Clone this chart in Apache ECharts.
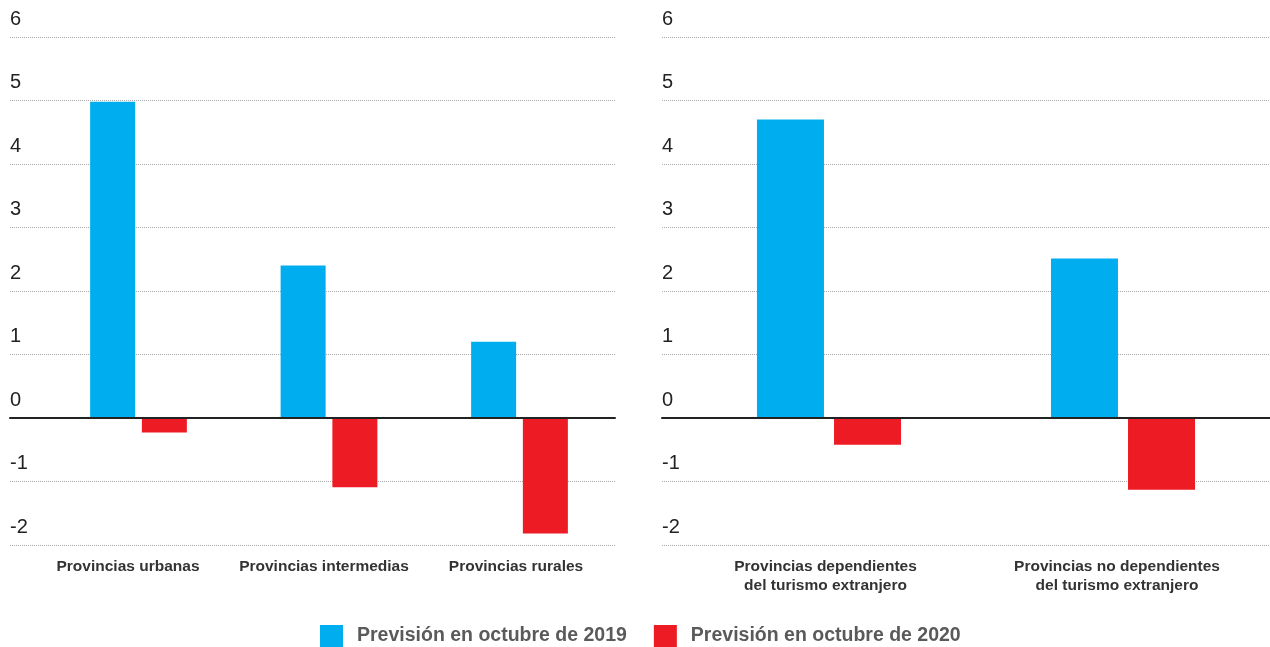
<!DOCTYPE html>
<html>
<head>
<meta charset="utf-8">
<script src="https://cdn.jsdelivr.net/npm/echarts@6/dist/echarts.min.js"></script>
<style>
  html, body { margin: 0; padding: 0; background: #ffffff; }
  #chart { width: 1270px; height: 647px; }
</style>
</head>
<body>
<div id="chart"></div>
<script>
// Categories of each panel
const leftCategories = ['Provincias urbanas', 'Provincias intermedias', 'Provincias rurales'];
const rightCategories = ['Provincias dependientes\ndel turismo extranjero', 'Provincias no dependientes\ndel turismo extranjero'];

// Series names
const seriesNames = ['Previsión en octubre de 2019', 'Previsión en octubre de 2020'];

// Values (%), left panel
const left2019 = [4.98, 2.40, 1.20];
const left2020 = [-0.23, -1.09, -1.82];

// Values (%), right panel
const right2019 = [4.70, 2.51];
const right2020 = [-0.42, -1.13];

// Value axis range
const yMin = -2;
const yMax = 6;
const yStep = 1;

const blue = '#00AEEF';
const red = '#ED1C24';
const baseFont = "'Liberation Sans', Arial, Helvetica, sans-serif";

// small horizontal nudges of the category captions (px, negative = left)
const leftNudge = [-10.5, -5, -3.5];
const rightNudge = [-3.5, -6];

function captionAxisLabel(nudges) {
  const rich = {};
  nudges.forEach((n, i) => {
    rich['c' + i] = {
      fontFamily: baseFont, fontSize: 15.5, fontWeight: 'bold', color: '#333333',
      lineHeight: 19,
      padding: n < 0 ? [0, -2 * n, 0, 0] : [0, 0, 0, 2 * n]
    };
  });
  return {
    interval: 0,
    margin: 12,
    fontFamily: baseFont, fontSize: 15.5, fontWeight: 'bold', color: '#333333',
    lineHeight: 19,
    formatter: (value, idx) => value.split('\n').map(l => '{c' + idx + '|' + l + '}').join('\n'),
    rich: rich
  };
}

const valueAxisFull = (gridIndex) => ({
  type: 'value', gridIndex: gridIndex,
  min: yMin, max: yMax, interval: yStep,
  axisLine: { show: false }, axisTick: { show: false },
  axisLabel: {
    align: 'left', verticalAlign: 'bottom', margin: 0,
    lineHeight: 20, padding: [0, 0, 8, 0],
    fontFamily: baseFont, fontSize: 20, color: '#222222'
  },
  splitLine: { show: true, lineStyle: { type: 'dotted', color: '#a8a8a8', width: 1 } }
});

const valueAxisHidden = (gridIndex) => ({
  type: 'value', gridIndex: gridIndex,
  min: yMin, max: yMax, interval: yStep, show: false
});

// zero line spanning the full panel width
const zeroLineAxis = (gridIndex) => ({
  type: 'value', gridIndex: gridIndex, min: 0, max: 1, z: 5,
  axisLine: { show: true, onZero: true, lineStyle: { color: '#222222', width: 2 } },
  axisTick: { show: false }, axisLabel: { show: false }, splitLine: { show: false }
});

const option = {
  animation: false,
  backgroundColor: '#ffffff',
  grid: [
    { left: 10, width: 605, top: 37, height: 508 },
    { left: 43.25, width: 571.5, top: 37, height: 508 },
    { left: 662, width: 608, top: 37, height: 508 },
    { left: 682, width: 593, top: 37, height: 508 }
  ],
  xAxis: [
    zeroLineAxis(0),
    {
      type: 'category', gridIndex: 1, data: leftCategories,
      axisLine: { show: false }, axisTick: { show: false },
      axisLabel: captionAxisLabel(leftNudge)
    },
    zeroLineAxis(2),
    {
      type: 'category', gridIndex: 3, data: rightCategories,
      axisLine: { show: false }, axisTick: { show: false },
      axisLabel: captionAxisLabel(rightNudge)
    }
  ],
  yAxis: [
    valueAxisFull(0),
    valueAxisHidden(1),
    valueAxisFull(2),
    valueAxisHidden(3)
  ],
  legend: {
    left: 315, top: 620,
    itemWidth: 23, itemHeight: 22, itemGap: 27,
    icon: 'rect',
    data: seriesNames,
    textStyle: {
      fontFamily: baseFont, fontSize: 19.5, fontWeight: 'bold', color: '#5a5a5a',
      padding: [5, 0, 0, 9]
    }
  },
  series: [
    {
      name: seriesNames[0], type: 'bar', xAxisIndex: 1, yAxisIndex: 1,
      data: left2019, barWidth: 45, barGap: '15%',
      itemStyle: { color: blue }
    },
    {
      name: seriesNames[1], type: 'bar', xAxisIndex: 1, yAxisIndex: 1,
      data: left2020, barWidth: 45, barGap: '15%',
      itemStyle: { color: red }
    },
    {
      name: seriesNames[0], type: 'bar', xAxisIndex: 3, yAxisIndex: 3,
      data: right2019, barWidth: 67, barGap: '15%',
      itemStyle: { color: blue }
    },
    {
      name: seriesNames[1], type: 'bar', xAxisIndex: 3, yAxisIndex: 3,
      data: right2020, barWidth: 67, barGap: '15%',
      itemStyle: { color: red }
    }
  ]
};

const chart = echarts.init(document.getElementById('chart'), null, { renderer: 'canvas' });
chart.setOption(option);
</script>
</body>
</html>
